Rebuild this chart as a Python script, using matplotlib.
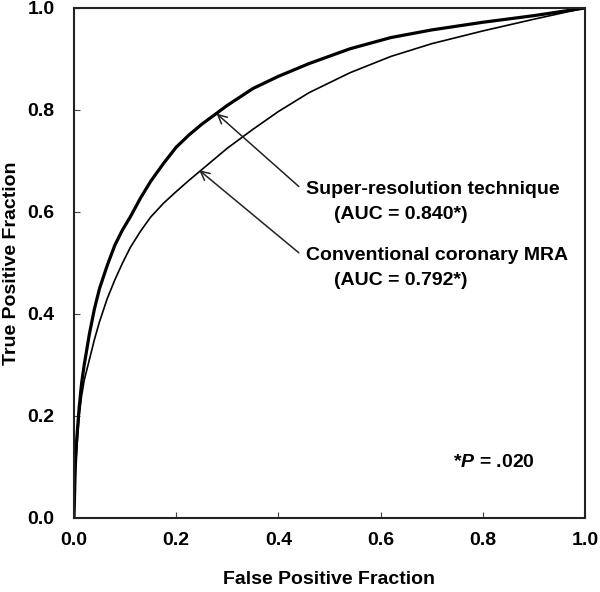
import matplotlib
matplotlib.use("Agg")
import matplotlib.pyplot as plt

plt.rcParams['font.family'] = ['Liberation Sans', 'DejaVu Sans']
plt.rcParams['mathtext.fontset'] = 'custom'
plt.rcParams['mathtext.it'] = 'Liberation Sans:italic:bold'
plt.rcParams['mathtext.rm'] = 'Liberation Sans:bold'

# values
fpf = [0, 0.0025, 0.005, 0.01, 0.015, 0.02, 0.03, 0.04, 0.05, 0.065, 0.08,
       0.095, 0.11, 0.13, 0.15, 0.175, 0.2, 0.225, 0.25, 0.3, 0.35, 0.4,
       0.46, 0.54, 0.62, 0.7, 0.8, 0.9, 1.0]
tpf_super = [0, 0.10, 0.15, 0.215, 0.265, 0.30, 0.36, 0.41, 0.45, 0.495, 0.535,
             0.565, 0.59, 0.627, 0.66, 0.695, 0.727, 0.751, 0.772, 0.809, 0.842, 0.866,
             0.891, 0.92, 0.942, 0.957, 0.972, 0.985, 1.0]
tpf_conv = [0, 0.09, 0.13, 0.20, 0.24, 0.27, 0.31, 0.35, 0.385, 0.43, 0.467,
            0.50, 0.53, 0.562, 0.59, 0.617, 0.64, 0.662, 0.683, 0.725, 0.762, 0.797,
            0.834, 0.873, 0.905, 0.93, 0.955, 0.978, 1.0]
ticks = [0.0, 0.2, 0.4, 0.6, 0.8, 1.0]
tick_labels = ["0.0", "0.2", "0.4", "0.6", "0.8", "1.0"]

fig = plt.figure(figsize=(6, 5.92), dpi=100)
ax = fig.add_axes([0.1233, 0.125, 0.8517, 0.8615])

ax.plot(fpf, tpf_super, color='black', lw=2.3, solid_joinstyle='round')
ax.plot(fpf, tpf_conv, color='black', lw=1.2, solid_joinstyle='round')

ax.set_xlim(0, 1)
ax.set_ylim(0, 1)
ax.set_xticks(ticks)
ax.set_yticks(ticks)
ax.set_xticklabels(tick_labels, fontsize=14, fontweight='bold')
ax.set_yticklabels(tick_labels, fontsize=14, fontweight='bold')
ax.tick_params(direction='in', length=4, width=0.8, color='#444444')
ax.tick_params(axis='x', pad=10)
ax.tick_params(axis='y', pad=14)
for s in ax.spines.values():
    s.set_linewidth(1.5)
    s.set_color('#222222')

ax.set_xlabel("False Positive Fraction", fontsize=14, fontweight='bold', labelpad=16)
ax.set_ylabel("True Positive Fraction", fontsize=14, fontweight='bold', labelpad=5)

arrow = dict(arrowstyle='->', color='#222222', lw=1.1, shrinkA=0, shrinkB=0,
             mutation_scale=16)
ax.annotate("", xy=(0.279, 0.793), xytext=(0.44, 0.65), arrowprops=arrow)
ax.annotate("", xy=(0.245, 0.682), xytext=(0.44, 0.52), arrowprops=arrow)

ax.text(0.455, 0.644, "Super-resolution technique", fontsize=14, fontweight='bold',
        va='center', ha='left')
ax.text(0.508, 0.595, "(AUC = 0.840*)", fontsize=14, fontweight='bold',
        va='center', ha='left')
ax.text(0.455, 0.514, "Conventional coronary MRA", fontsize=14, fontweight='bold',
        va='center', ha='left')
ax.text(0.508, 0.465, "(AUC = 0.792*)", fontsize=14, fontweight='bold',
        va='center', ha='left')
ax.text(0.742, 0.108, "*$P$ = .020", fontsize=14, fontweight='bold',
        va='center', ha='left')

fig.savefig("out.png", dpi=100)
